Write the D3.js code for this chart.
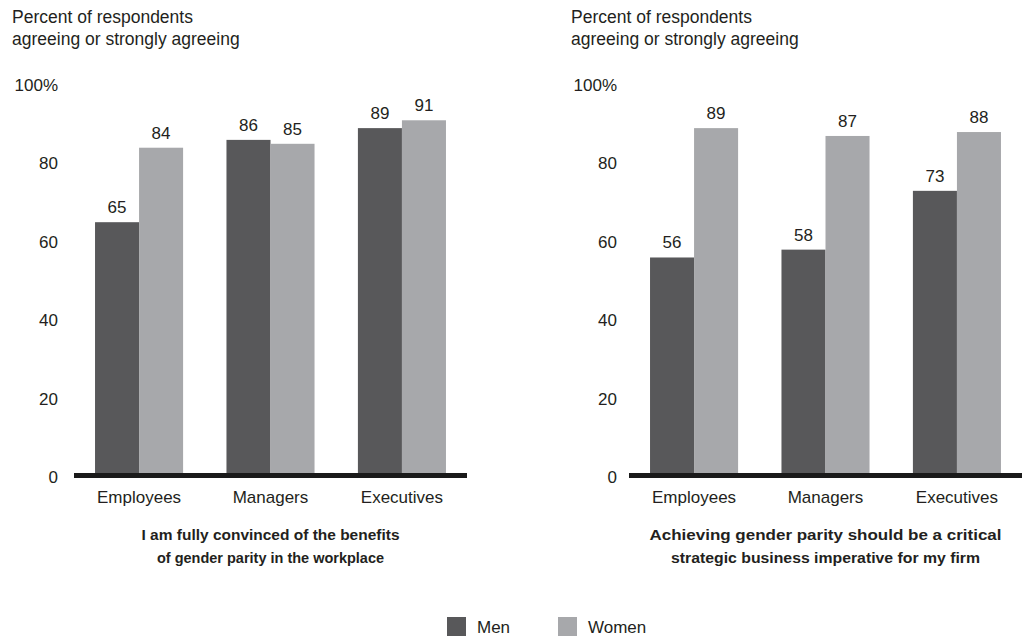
<!DOCTYPE html>
<html>
<head>
<meta charset="utf-8">
<script src="https://cdn.jsdelivr.net/npm/d3@7"></script>
<style>
  html, body { margin: 0; padding: 0; background: #ffffff; }
  svg text { font-family: "Liberation Sans", Arial, sans-serif; fill: #231f20; }
</style>
</head>
<body>
<svg id="chart" width="1022" height="638"></svg>
<script>
// Survey results: share of respondents agreeing or strongly agreeing
const categories = ["Employees", "Managers", "Executives"];
const seriesNames = ["Men", "Women"];
const benefitsMen = [65, 86, 89];
const benefitsWomen = [84, 85, 91];
const imperativeMen = [56, 58, 73];
const imperativeWomen = [89, 87, 88];
const yTicks = [0, 20, 40, 60, 80, 100];
const yAxisTitle = ["Percent of respondents", "agreeing or strongly agreeing"];
const benefitsCaption = ["I am fully convinced of the benefits", "of gender parity in the workplace"];
const imperativeCaption = ["Achieving gender parity should be a critical", "strategic business imperative for my firm"];

const colors = { Men: "#58585a", Women: "#a7a8ab" };

const svg = d3.select("#chart");

const y = d3.scaleLinear().domain([0, 100]).range([477, 85]);

function drawPanel(opts) {
  const g = svg.append("g");
  const x0 = d3.scaleBand().domain(categories)
    .range([opts.axisStart, opts.axisEnd])
    .paddingInner(0.33).paddingOuter(0.16);
  const x1 = d3.scaleBand().domain(seriesNames).range([0, x0.bandwidth()]);

  const rows = categories.map((c, i) => ({
    category: c,
    values: [
      { key: "Men", value: opts.men[i] },
      { key: "Women", value: opts.women[i] }
    ]
  }));

  // axis title
  g.append("text")
    .attr("x", opts.titleX).attr("y", 23)
    .style("font-size", "17.5px")
    .selectAll("tspan").data(yAxisTitle).join("tspan")
    .attr("x", opts.titleX).attr("dy", (d, i) => i === 0 ? 0 : 22)
    .text(d => d);

  // y tick labels
  g.selectAll(".ytick").data(yTicks).join("text")
    .attr("class", "ytick")
    .attr("x", opts.tickX)
    .attr("y", d => y(d))
    .attr("dy", "0.35em")
    .attr("text-anchor", "end")
    .style("font-size", "17px")
    .text(d => d === 100 ? "100%" : d);

  // bars
  const groups = g.selectAll(".grp").data(rows).join("g")
    .attr("class", "grp")
    .attr("transform", d => `translate(${x0(d.category)},0)`);

  groups.selectAll("rect").data(d => d.values).join("rect")
    .attr("x", d => x1(d.key))
    .attr("width", x1.bandwidth())
    .attr("y", d => y(d.value))
    .attr("height", d => y(0) - y(d.value))
    .attr("fill", d => colors[d.key]);

  groups.selectAll(".val").data(d => d.values).join("text")
    .attr("class", "val")
    .attr("x", d => x1(d.key) + x1.bandwidth() / 2)
    .attr("y", d => y(d.value) - 9)
    .attr("text-anchor", "middle")
    .style("font-size", "17px")
    .text(d => d.value);

  // baseline
  g.append("line")
    .attr("x1", opts.axisStart).attr("x2", opts.axisEnd)
    .attr("y1", 475.5).attr("y2", 475.5)
    .attr("stroke", "#1a1a1a").attr("stroke-width", 5);

  // category labels
  g.selectAll(".cat").data(categories).join("text")
    .attr("class", "cat")
    .attr("x", d => x0(d) + x0.bandwidth() / 2)
    .attr("y", 503)
    .attr("text-anchor", "middle")
    .style("font-size", "17px")
    .text(d => d);

  // caption, stretched to the set line widths
  const mid = (opts.axisStart + opts.axisEnd) / 2;
  g.selectAll(".cap").data(opts.caption).join("text")
    .attr("class", "cap")
    .attr("x", mid)
    .attr("y", (d, i) => 540 + i * 23)
    .attr("text-anchor", "middle")
    .attr("textLength", (d, i) => opts.captionWidths[i])
    .attr("lengthAdjust", "spacingAndGlyphs")
    .style("font-size", "15.5px")
    .style("font-weight", "bold")
    .text(d => d);
}

drawPanel({ axisStart: 74, axisEnd: 467, titleX: 12, tickX: 58,
  men: benefitsMen, women: benefitsWomen, caption: benefitsCaption,
  captionWidths: [258, 227] });
drawPanel({ axisStart: 629, axisEnd: 1022, titleX: 571, tickX: 617,
  men: imperativeMen, women: imperativeWomen, caption: imperativeCaption,
  captionWidths: [352, 309] });

// legend
const legendX = [447, 558];
const legend = svg.selectAll(".leg").data(seriesNames).join("g")
  .attr("class", "leg")
  .attr("transform", (d, i) => `translate(${legendX[i]},617)`);
legend.append("rect").attr("width", 19).attr("height", 19)
  .attr("fill", d => colors[d]);
legend.append("text").attr("x", 30).attr("y", 16)
  .style("font-size", "17px").text(d => d);
</script>
</body>
</html>
